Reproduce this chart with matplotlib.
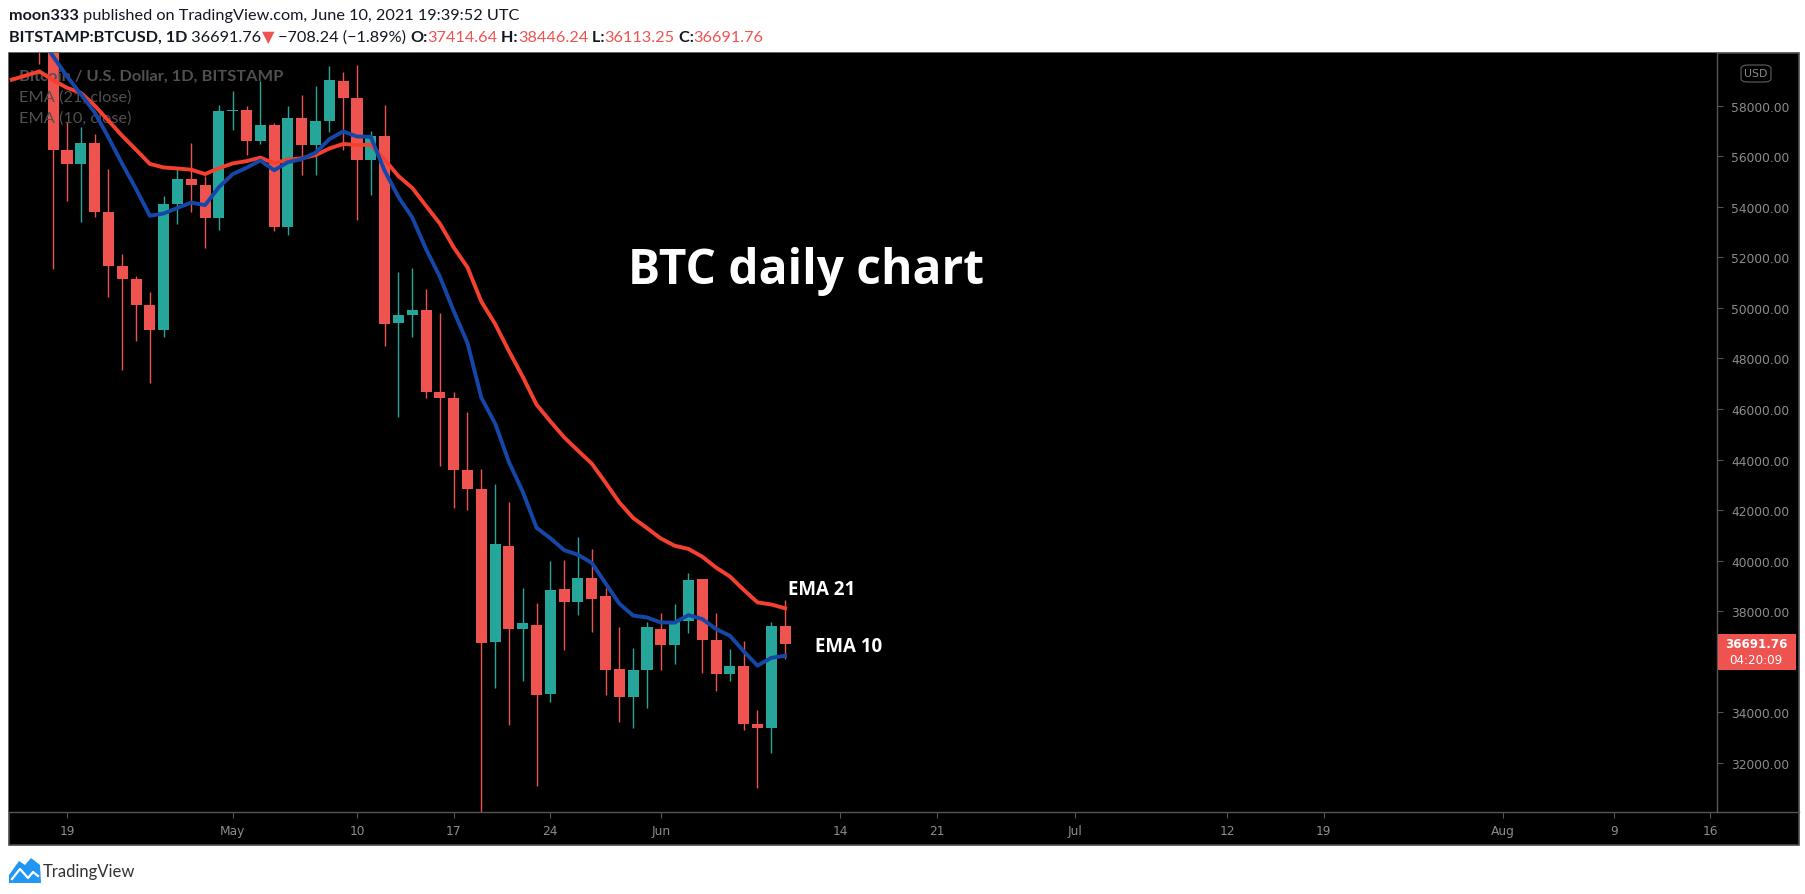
import matplotlib
matplotlib.use('Agg')
import matplotlib.pyplot as plt
from matplotlib.patches import Rectangle, FancyBboxPatch, Polygon
from matplotlib.lines import Line2D

# ---- data (days counted from Apr 19 2021) ----
candle_days = list(range(-2, 53))          # Apr 17 .. Jun 10
opens = [61300, 60200, 56253, 55687, 56517, 53801, 51666, 51152, 50124, 49135,
         54105, 55094, 54869, 53552, 57783, 57830, 56609, 57229, 53208, 57506,
         56450, 57387, 58969, 58308, 55857, 56794, 49412, 49716, 49914, 46684,
         46446, 43600, 42848, 36787, 40583, 37314, 37450, 34720, 38883, 38382,
         39318, 38606, 35700, 34625, 35679, 37300, 36682, 37617, 39279, 36880,
         35534, 35838, 33558, 33400, 37414.64]
highs = [62500, 60500, 57336, 57150, 56861, 55489, 52128, 51270, 50614, 54435,
         55517, 56505, 55200, 58020, 58561, 57968, 58980, 57300, 57980, 58415,
         58758, 59574, 59336, 59613, 57004, 58020, 51417, 51575, 50744, 49796,
         46660, 45881, 43627, 43034, 42322, 38921, 38328, 39990, 40029, 40939,
         40464, 38921, 37380, 36549, 37578, 37935, 38289, 39516, 39279, 37935,
         36510, 36826, 34098, 37578, 38446.24]
lows = [59640, 51535, 54236, 53406, 53603, 50440, 47554, 48700, 47015, 48834,
        53315, 53801, 52365, 53077, 57043, 56043, 56478, 53038, 52892, 55252,
        55252, 56964, 56229, 53485, 54473, 48503, 45695, 48858, 46446, 43758,
        42097, 42018, 30000, 34968, 33518, 35245, 31106, 34428, 36484, 37866,
        37194, 34704, 33637, 33386, 34177, 35692, 35930, 37155, 35574, 34862,
        35257, 33320, 31027, 32411, 36113.25]
closes = [60200, 56253, 55687, 56517, 53801, 51666, 51152, 50124, 49135, 54105,
          55094, 54869, 53552, 57783, 57830, 56609, 57229, 53208, 57506, 56450,
          57387, 59008, 58308, 55857, 56794, 49373, 49716, 49914, 46684, 46446,
          43600, 42848, 36760, 40662, 37314, 37525, 34704, 38843, 38382, 39318,
          38500, 35692, 34625, 35679, 37380, 36682, 37617, 39239, 36880, 35534,
          35838, 33558, 33400, 37420, 36691.76]

ema_days = list(range(-4, 53))             # Apr 15 .. Jun 10
ema21 = [59020, 59180, 59350, 59000, 58700, 58500, 58000, 57400, 56800, 56250,
         55690, 55550, 55510, 55460, 55290, 55520, 55710, 55800, 55940, 55720,
         55860, 55910, 56040, 56300, 56480, 56440, 56450, 55860, 55210, 54740,
         54030, 53330, 52390, 51600, 50250, 49365, 48290, 47275, 46175, 45510,
         44880, 44355, 43840, 43085, 42300, 41690, 41290, 40880, 40593, 40466,
         40160, 39730, 39377, 38850, 38352, 38270, 38120]
ema10 = [61300, 61000, 60760, 59940, 59150, 58450, 57730, 56740, 55690, 54700,
         53640, 53730, 53950, 54160, 54060, 54770, 55285, 55540, 55825, 55440,
         55760, 55880, 56135, 56670, 56975, 56775, 56760, 55420, 54385, 53572,
         52320, 51230, 49875, 48610, 46450, 45430, 43905, 42730, 41305, 40890,
         40420, 40235, 39915, 39105, 38300, 37830, 37757, 37560, 37553, 37850,
         37695, 37300, 37035, 36420, 35852, 36160, 36243]

xtick_days = [0, 12, 21, 28, 35, 43, 56, 63, 73, 84, 91, 104, 112, 119]
xtick_labels = ['19', 'May', '10', '17', '24', 'Jun', '14', '21', 'Jul', '12',
                '19', 'Aug', '9', '16']
# 36000 is covered by the last-price badge on the reference
ytick_values = [32000, 34000, 38000, 40000, 42000, 44000, 46000, 48000, 50000,
                52000, 54000, 56000, 58000]
last_price = '36691.76'
countdown = '04:20:09'

UP = '#26a69a'
DOWN = '#ef5350'
W, H = 1805, 895


def fx(px):
    return px / W


def fy(py):
    return 1 - py / H


fig = plt.figure(figsize=(W / 100, H / 100), dpi=100)
fig.patch.set_facecolor('white')
renderer = fig.canvas.get_renderer()

# black chart panel with frame (behind the axes)
fig.patches.append(Rectangle((fx(9), fy(846)), fx(1799) - fx(9), fy(54) - fy(846),
                             transform=fig.transFigure, facecolor='black',
                             edgecolor='#4a4a4a', linewidth=1.2, zorder=-5))

ax = fig.add_axes([fx(9), fy(812.6), fx(1717) - fx(9), fy(54) - fy(812.6)])
ax.set_facecolor('black')
ax.set_xlim(-4.20, 119.48)
ax.set_ylim(30080, 60076)

# candles
for d, o, h, l, c in zip(candle_days, opens, highs, lows, closes):
    col = UP if c >= o else DOWN
    ax.vlines(d, l, h, color=col, linewidth=1.0, zorder=2)
    ax.bar(d, max(abs(c - o), 40), bottom=min(o, c), width=0.8, color=col,
           linewidth=0, zorder=3)

ax.plot(ema_days, ema21, color='#f5402f', linewidth=2.8, zorder=5,
        solid_joinstyle='round')
ax.plot(ema_days, ema10, color='#1547a8', linewidth=2.8, zorder=5,
        solid_joinstyle='round')

for sp in ['top', 'left']:
    ax.spines[sp].set_visible(False)
for sp in ['right', 'bottom']:
    ax.spines[sp].set_color('#555555')
    ax.spines[sp].set_linewidth(1.0)

ax.set_yticks(ytick_values)
ax.set_yticklabels(['%.2f' % v for v in ytick_values])
ax.yaxis.tick_right()
ax.tick_params(axis='y', direction='out', length=4, width=0.8, color='#555555',
               labelcolor='#8c8c8c', labelsize=8.8, pad=6)
ax.set_xticks(xtick_days)
ax.set_xticklabels(xtick_labels)
ax.tick_params(axis='x', direction='out', length=4, width=0.8, color='#555555',
               labelcolor='#8c8c8c', labelsize=8.8, pad=5)

# horizontal line of time axis continues under price scale
fig.lines.append(Line2D([fx(1717), fx(1799)], [fy(812.6), fy(812.6)],
                        transform=fig.transFigure, color='#555555', linewidth=1.0))

# legend text top-left
leg_col = '#505050'
ax.text(fx(19), fy(77), 'Bitcoin / U.S. Dollar, 1D, BITSTAMP', transform=fig.transFigure,
        color=leg_col, fontsize=11.8, fontweight='bold', family='Lato', va='center',
        zorder=4)
ax.text(fx(19), fy(98), 'EMA (21, close)', transform=fig.transFigure,
        color=leg_col, fontsize=11.8, family='Lato', va='center', zorder=4)
ax.text(fx(19), fy(119), 'EMA (10, close)', transform=fig.transFigure,
        color=leg_col, fontsize=11.8, family='Lato', va='center', zorder=4)

# annotations
fig.text(fx(806), fy(271), 'BTC daily chart', color='white', fontsize=34.5,
         fontweight='bold', family='Open Sans', ha='center', va='center')
fig.text(fx(788), fy(590), 'EMA 21', color='white', fontsize=13.5,
         fontweight='bold', family='Open Sans', ha='left', va='center')
fig.text(fx(815), fy(647), 'EMA 10', color='white', fontsize=13.5,
         fontweight='bold', family='Open Sans', ha='left', va='center')

# USD badge
fig.patches.append(FancyBboxPatch((fx(1741), fy(83)), fx(1771) - fx(1741), fy(66) - fy(83),
                                  boxstyle='round,pad=0,rounding_size=0.004',
                                  transform=fig.transFigure, facecolor='black',
                                  edgecolor='#555555', linewidth=0.9))
fig.text(fx(1756), fy(74.5), 'USD', color='#8c8c8c', fontsize=7.8, ha='center',
         va='center')

# last price label
fig.patches.append(Rectangle((fx(1718), fy(671)), fx(1796) - fx(1718), fy(635) - fy(671),
                             transform=fig.transFigure, facecolor=DOWN, edgecolor='none'))
fig.text(fx(1756), fy(645), last_price, color='white', fontsize=8.6, fontweight='bold',
         ha='center', va='center')
fig.text(fx(1756), fy(661), countdown, color='white', fontsize=8.6, ha='center',
         va='center')


def rich_line(x, y, parts, size):
    for txt, color, weight in parts:
        t = fig.text(fx(x), fy(y), txt, color=color, fontsize=size, fontweight=weight,
                     family=['Lato', 'DejaVu Sans'], ha='left', va='center')
        x += t.get_window_extent(renderer=renderer).width


dark = '#131722'
rich_line(9, 16, [('moon333', dark, 'bold'),
                  (' published on TradingView.com, June 10, 2021 19:39:52 UTC', dark, 'normal')],
          11.7)
rich_line(9, 38, [('BITSTAMP:BTCUSD, 1D', dark, 'bold'),
                  (' 36691.76', dark, 'normal'),
                  ('\u25BC', DOWN, 'normal'),
                  (' \u2212708.24 (\u22121.89%) ', dark, 'normal'),
                  ('O:', dark, 'bold'), ('37414.64', DOWN, 'normal'),
                  (' H:', dark, 'bold'), ('38446.24', DOWN, 'normal'),
                  (' L:', dark, 'bold'), ('36113.25', DOWN, 'normal'),
                  (' C:', dark, 'bold'), ('36691.76', DOWN, 'normal')],
          11.7)

# TradingView logo
logo = Polygon([(fx(9), fy(884)), (fx(9), fy(876)), (fx(19), fy(862)), (fx(25), fy(866)),
                (fx(31), fy(859)), (fx(40), fy(866)), (fx(41), fy(884))],
               closed=True, transform=fig.transFigure, facecolor='#2196f3',
               edgecolor='none')
fig.patches.append(logo)
fig.lines.append(Line2D([fx(12), fx(20), fx(28), fx(33), fx(38)],
                        [fy(880), fy(870), fy(879), fy(873), fy(877)],
                        transform=fig.transFigure, color='white', linewidth=1.6))
fig.text(fx(43), fy(872), 'TradingView', color='#333333', fontsize=12, family='Lato',
         ha='left', va='center')

fig.savefig('out.png', dpi=100, facecolor='white')
